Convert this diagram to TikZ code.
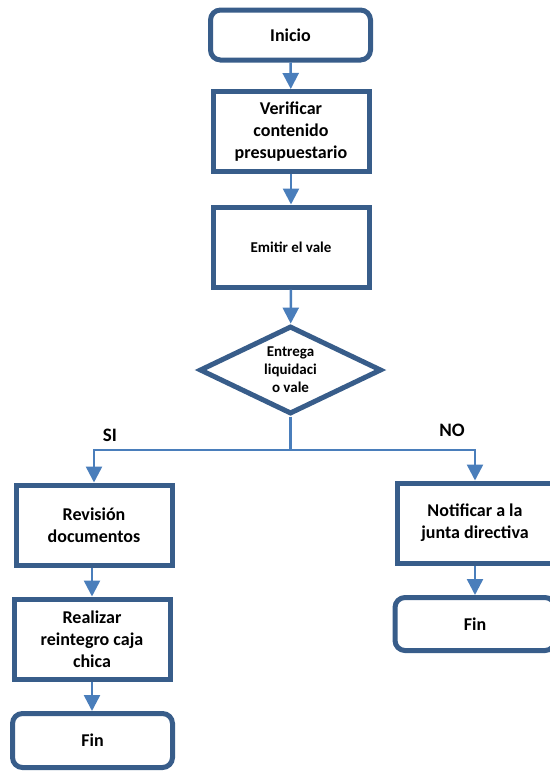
\documentclass[tikz,border=0pt]{standalone}
\usepackage{fontspec}
\setmainfont{Carlito}
\usepackage{tikz}
\usetikzlibrary{arrows.meta,positioning,shapes.geometric}
\definecolor{boxline}{HTML}{385D8A}
\definecolor{flowblue}{HTML}{4A7EBB}
\tikzset{
  base/.style={draw=boxline,line width=5pt,fill=white,align=center,inner sep=2pt,
    font=\fontsize{18}{22}\selectfont\bfseries},
  term/.style={base,rectangle,rounded corners=10pt,minimum width=160pt,minimum height=50pt},
  proc/.style={base,rectangle,minimum width=156pt,minimum height=80pt},
  dec/.style={base,diamond,aspect=2,inner sep=0pt,minimum width=182pt,minimum height=88pt,
    font=\fontsize{15}{18}\selectfont\bfseries},
  flow/.style={-{Triangle[width=16pt,length=16pt]},flowblue,line width=2.5pt},
  line/.style={flowblue,line width=2.5pt},
  tag/.style={font=\fontsize{19}{22}\selectfont\bfseries},
}
\begin{document}
\begin{tikzpicture}[x=1pt,y=-1pt]
        \useasboundingbox (0,0) rectangle (549,771);
        \node[term] (ini) at (290.5,35) {Inicio};
        \node[proc] (ver) at (291,131.5) {Verificar\\contenido\\presupuestario};
        \node[proc] (emi) at (291,247) {\fontsize{15}{18}\selectfont Emitir el vale};
        \node[dec]  (ent) at (290.5,370) {Entrega\\liquidaci\\o vale};
        \node[proc] (rev) at (94,525) {Revisión\\documentos};
        \node[proc] (rea) at (92,639) {Realizar\\reintegro caja\\chica};
        \node[term,minimum height=54pt] (fl) at (92.5,740.5) {Fin};
        \node[proc] (not) at (475,523) {Notificar a la\\junta directiva};
        \node[term,minimum height=53pt] (fr) at (475,624) {Fin};
        \coordinate (split) at (290.5,450);
        \draw[flow] (ini) -- (ver);
        \draw[flow] (ver) -- (emi);
        \draw[flow] (emi) -- (ent);
        \draw[line] (ent.south) -- (split);
        \draw[flow] (split) -| (rev.north);
        \draw[flow] (split) -| (not.north);
        \draw[flow] (rev.south -| rea.north) -- (rea.north);
        \draw[flow] (rea.south) -- (rea.south |- fl.north);
        \draw[flow] (not) -- (fr);
        \node[tag] (si) at (110,435) {SI};
        \node[tag] (no) at (452,430) {NO};
      \end{tikzpicture}
\end{document}
